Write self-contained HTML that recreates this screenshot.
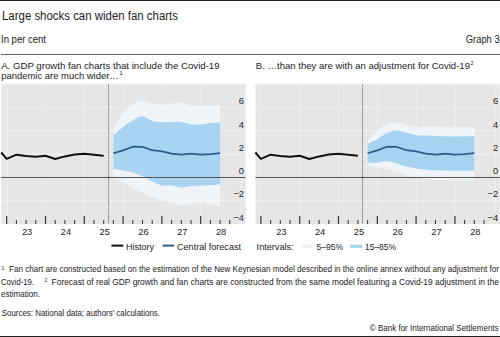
<!DOCTYPE html>
<html><head><meta charset="utf-8"><style>
html,body{margin:0;padding:0;background:#fff;width:500px;height:337px;overflow:hidden}
svg{display:block}
text{font-family:"Liberation Sans",sans-serif;fill:#222}
.ax{font-size:9.3px}
</style></head><body>
<svg width="500" height="337" viewBox="0 0 500 337">
<rect x="0" y="0" width="500" height="1" fill="#222"/>
<text x="2" y="19.8" font-size="12" textLength="176" lengthAdjust="spacingAndGlyphs">Large shocks can widen fan charts</text>
<text x="1" y="43" font-size="10" textLength="45" lengthAdjust="spacingAndGlyphs">In per cent</text>
<text x="465.8" y="43.3" font-size="10" textLength="33.8" lengthAdjust="spacingAndGlyphs">Graph 3</text>
<rect x="1" y="54" width="499" height="1" fill="#606060"/>
<text x="1.2" y="68.9" font-size="9.8" textLength="218.4" lengthAdjust="spacingAndGlyphs">A. GDP growth fan charts that include the Covid-19</text>
<text x="1.2" y="78.7" font-size="9.8" textLength="117.6" lengthAdjust="spacingAndGlyphs">pandemic are much wider…</text>
<text x="119.6" y="74.8" font-size="5.6">1</text>
<text x="255.8" y="68.9" font-size="9.8" textLength="214.2" lengthAdjust="spacingAndGlyphs">B. …than they are with an adjustment for Covid-19</text>
<text x="470.6" y="65.2" font-size="5.5">2</text>
<rect x="1.2" y="84.2" width="244.4" height="139.9" fill="#e6e6e6"/>
<line x1="1.2" x2="245.6" y1="107.5" y2="107.5" stroke="#efefef" stroke-width="1.2"/>
<line x1="1.2" x2="245.6" y1="130.8" y2="130.8" stroke="#efefef" stroke-width="1.2"/>
<line x1="1.2" x2="245.6" y1="154.1" y2="154.1" stroke="#efefef" stroke-width="1.2"/>
<line x1="1.2" x2="245.6" y1="200.70000000000002" y2="200.70000000000002" stroke="#efefef" stroke-width="1.2"/>
<line x1="6.9" x2="6.9" y1="84.2" y2="223.8" stroke="#efefef" stroke-width="1"/>
<line x1="45.7" x2="45.7" y1="84.2" y2="223.8" stroke="#efefef" stroke-width="1"/>
<line x1="84.5" x2="84.5" y1="84.2" y2="223.8" stroke="#efefef" stroke-width="1"/>
<line x1="123.3" x2="123.3" y1="84.2" y2="223.8" stroke="#efefef" stroke-width="1"/>
<line x1="162.09999999999997" x2="162.09999999999997" y1="84.2" y2="223.8" stroke="#efefef" stroke-width="1"/>
<line x1="200.89999999999998" x2="200.89999999999998" y1="84.2" y2="223.8" stroke="#efefef" stroke-width="1"/>
<line x1="241.29999999999995" x2="241.29999999999995" y1="84.2" y2="223.8" stroke="#efefef" stroke-width="1"/>
<path d="M113.40,129.00 C115.02,126.25 119.87,116.67 123.10,112.50 C126.33,108.33 129.57,106.08 132.80,104.00 C136.03,101.92 139.27,100.20 142.50,100.00 C145.73,99.80 148.97,102.05 152.20,102.80 C155.43,103.55 158.67,104.38 161.90,104.50 C165.13,104.62 168.37,103.87 171.60,103.50 C174.83,103.13 178.07,101.97 181.30,102.30 C184.53,102.63 187.77,104.88 191.00,105.50 C194.23,106.12 197.47,105.92 200.70,106.00 C203.93,106.08 207.17,106.08 210.40,106.00 C213.63,105.92 218.48,105.58 220.10,105.50 L220.10,206.70 C218.48,206.25 213.63,204.78 210.40,204.00 C207.17,203.22 203.93,202.00 200.70,202.00 C197.47,202.00 194.23,203.43 191.00,204.00 C187.77,204.57 184.53,205.62 181.30,205.40 C178.07,205.18 174.83,203.60 171.60,202.70 C168.37,201.80 165.13,200.93 161.90,200.00 C158.67,199.07 155.43,198.32 152.20,197.10 C148.97,195.88 145.73,194.30 142.50,192.70 C139.27,191.10 136.03,189.23 132.80,187.50 C129.57,185.77 126.33,183.78 123.10,182.30 C119.87,180.82 115.02,179.22 113.40,178.60 Z" fill="#f2fbff" fill-opacity="0.66"/>
<path d="M113.40,135.20 C115.02,133.83 119.87,129.48 123.10,127.00 C126.33,124.52 129.57,122.08 132.80,120.30 C136.03,118.52 139.27,116.18 142.50,116.30 C145.73,116.42 148.97,120.02 152.20,121.00 C155.43,121.98 158.67,122.03 161.90,122.20 C165.13,122.37 168.37,122.03 171.60,122.00 C174.83,121.97 178.07,121.63 181.30,122.00 C184.53,122.37 187.77,123.83 191.00,124.20 C194.23,124.57 197.47,124.37 200.70,124.20 C203.93,124.03 207.17,123.48 210.40,123.20 C213.63,122.92 218.48,122.62 220.10,122.50 L220.10,184.40 C218.48,184.50 213.63,184.83 210.40,185.00 C207.17,185.17 203.93,185.23 200.70,185.40 C197.47,185.57 194.23,185.67 191.00,186.00 C187.77,186.33 184.53,187.50 181.30,187.40 C178.07,187.30 174.83,185.75 171.60,185.40 C168.37,185.05 165.13,185.95 161.90,185.30 C158.67,184.65 155.43,183.00 152.20,181.50 C148.97,180.00 145.73,177.78 142.50,176.30 C139.27,174.82 136.03,173.58 132.80,172.60 C129.57,171.62 126.33,171.02 123.10,170.40 C119.87,169.78 115.02,169.15 113.40,168.90 Z" fill="#a8d4f2"/>
<line x1="1.2" x2="245.6" y1="177.5" y2="177.5" stroke="#555" stroke-width="1.15"/>
<polyline points="1.20,152.50 6.70,158.80 16.40,154.70 26.10,156.00 35.80,156.80 45.50,155.80 55.20,159.00 64.90,156.40 74.60,154.50 84.30,153.80 94.00,154.75 103.70,155.70" fill="none" stroke="#111" stroke-width="2" stroke-linejoin="round"/>
<polyline points="113.40,153.20 123.10,150.40 132.80,146.70 142.50,146.90 152.20,150.20 161.90,151.30 171.60,153.70 181.30,154.60 191.00,153.70 200.70,154.60 210.40,154.20 220.10,153.20" fill="none" stroke="#2c5d8c" stroke-width="1.7" stroke-linejoin="round"/>
<line x1="108.5" x2="108.5" y1="84.2" y2="223.8" stroke="#5a5a5a" stroke-width="1" stroke-dasharray="1,1"/>
<line x1="6.7" x2="6.7" y1="216" y2="224" stroke="#333" stroke-width="1.2"/>
<line x1="16.4" x2="16.4" y1="220" y2="224" stroke="#333" stroke-width="1"/>
<line x1="26.099999999999998" x2="26.099999999999998" y1="220" y2="224" stroke="#333" stroke-width="1"/>
<line x1="35.8" x2="35.8" y1="220" y2="224" stroke="#333" stroke-width="1"/>
<line x1="45.5" x2="45.5" y1="216" y2="224" stroke="#333" stroke-width="1.2"/>
<line x1="55.2" x2="55.2" y1="220" y2="224" stroke="#333" stroke-width="1"/>
<line x1="64.89999999999999" x2="64.89999999999999" y1="220" y2="224" stroke="#333" stroke-width="1"/>
<line x1="74.6" x2="74.6" y1="220" y2="224" stroke="#333" stroke-width="1"/>
<line x1="84.3" x2="84.3" y1="216" y2="224" stroke="#333" stroke-width="1.2"/>
<line x1="94.0" x2="94.0" y1="220" y2="224" stroke="#333" stroke-width="1"/>
<line x1="103.7" x2="103.7" y1="220" y2="224" stroke="#333" stroke-width="1"/>
<line x1="113.39999999999999" x2="113.39999999999999" y1="220" y2="224" stroke="#333" stroke-width="1"/>
<line x1="123.1" x2="123.1" y1="216" y2="224" stroke="#333" stroke-width="1.2"/>
<line x1="132.79999999999998" x2="132.79999999999998" y1="220" y2="224" stroke="#333" stroke-width="1"/>
<line x1="142.49999999999997" x2="142.49999999999997" y1="220" y2="224" stroke="#333" stroke-width="1"/>
<line x1="152.2" x2="152.2" y1="220" y2="224" stroke="#333" stroke-width="1"/>
<line x1="161.89999999999998" x2="161.89999999999998" y1="216" y2="224" stroke="#333" stroke-width="1.2"/>
<line x1="171.59999999999997" x2="171.59999999999997" y1="220" y2="224" stroke="#333" stroke-width="1"/>
<line x1="181.29999999999998" x2="181.29999999999998" y1="220" y2="224" stroke="#333" stroke-width="1"/>
<line x1="190.99999999999997" x2="190.99999999999997" y1="220" y2="224" stroke="#333" stroke-width="1"/>
<line x1="200.7" x2="200.7" y1="216" y2="224" stroke="#333" stroke-width="1.2"/>
<line x1="210.39999999999998" x2="210.39999999999998" y1="220" y2="224" stroke="#333" stroke-width="1"/>
<line x1="220.09999999999997" x2="220.09999999999997" y1="220" y2="224" stroke="#333" stroke-width="1"/>
<line x1="229.79999999999998" x2="229.79999999999998" y1="220" y2="224" stroke="#333" stroke-width="1"/>
<text x="244" y="104.2" text-anchor="end" class="ax">6</text>
<text x="244" y="127.50000000000001" text-anchor="end" class="ax">4</text>
<text x="244" y="150.79999999999998" text-anchor="end" class="ax">2</text>
<text x="244" y="174.1" text-anchor="end" class="ax">0</text>
<text x="244" y="197.4" text-anchor="end" class="ax">−2</text>
<text x="244" y="220.7" text-anchor="end" class="ax">−4</text>
<text x="27.099999999999998" y="234.8" text-anchor="middle" class="ax">23</text>
<text x="65.9" y="234.8" text-anchor="middle" class="ax">24</text>
<text x="104.69999999999999" y="234.8" text-anchor="middle" class="ax">25</text>
<text x="143.5" y="234.8" text-anchor="middle" class="ax">26</text>
<text x="182.29999999999998" y="234.8" text-anchor="middle" class="ax">27</text>
<text x="221.1" y="234.8" text-anchor="middle" class="ax">28</text>
<rect x="255.39999999999998" y="84.2" width="244.4" height="139.9" fill="#e6e6e6"/>
<line x1="255.39999999999998" x2="499.79999999999995" y1="107.5" y2="107.5" stroke="#efefef" stroke-width="1.2"/>
<line x1="255.39999999999998" x2="499.79999999999995" y1="130.8" y2="130.8" stroke="#efefef" stroke-width="1.2"/>
<line x1="255.39999999999998" x2="499.79999999999995" y1="154.1" y2="154.1" stroke="#efefef" stroke-width="1.2"/>
<line x1="255.39999999999998" x2="499.79999999999995" y1="200.70000000000002" y2="200.70000000000002" stroke="#efefef" stroke-width="1.2"/>
<line x1="261.09999999999997" x2="261.09999999999997" y1="84.2" y2="223.8" stroke="#efefef" stroke-width="1"/>
<line x1="299.9" x2="299.9" y1="84.2" y2="223.8" stroke="#efefef" stroke-width="1"/>
<line x1="338.7" x2="338.7" y1="84.2" y2="223.8" stroke="#efefef" stroke-width="1"/>
<line x1="377.49999999999994" x2="377.49999999999994" y1="84.2" y2="223.8" stroke="#efefef" stroke-width="1"/>
<line x1="416.29999999999995" x2="416.29999999999995" y1="84.2" y2="223.8" stroke="#efefef" stroke-width="1"/>
<line x1="455.09999999999997" x2="455.09999999999997" y1="84.2" y2="223.8" stroke="#efefef" stroke-width="1"/>
<line x1="495.49999999999994" x2="495.49999999999994" y1="84.2" y2="223.8" stroke="#efefef" stroke-width="1"/>
<path d="M367.60,140.50 C369.22,138.83 374.07,133.17 377.30,130.50 C380.53,127.83 383.77,125.83 387.00,124.50 C390.23,123.17 393.47,122.43 396.70,122.50 C399.93,122.57 403.17,124.18 406.40,124.90 C409.63,125.62 412.87,126.48 416.10,126.80 C419.33,127.12 422.57,126.80 425.80,126.80 C429.03,126.80 432.27,126.77 435.50,126.80 C438.73,126.83 441.97,126.92 445.20,127.00 C448.43,127.08 451.67,127.25 454.90,127.30 C458.13,127.35 461.37,127.38 464.60,127.30 C467.83,127.22 472.68,126.88 474.30,126.80 L474.30,180.80 C472.68,180.80 467.83,180.80 464.60,180.80 C461.37,180.80 458.13,180.85 454.90,180.80 C451.67,180.75 448.43,180.63 445.20,180.50 C441.97,180.37 438.73,180.25 435.50,180.00 C432.27,179.75 429.03,179.42 425.80,179.00 C422.57,178.58 419.33,178.17 416.10,177.50 C412.87,176.83 409.63,176.00 406.40,175.00 C403.17,174.00 399.93,172.50 396.70,171.50 C393.47,170.50 390.23,169.68 387.00,169.00 C383.77,168.32 380.53,168.03 377.30,167.40 C374.07,166.77 369.22,165.57 367.60,165.20 Z" fill="#f2fbff" fill-opacity="0.66"/>
<path d="M367.60,143.80 C369.22,143.00 374.07,140.80 377.30,139.00 C380.53,137.20 383.77,134.43 387.00,133.00 C390.23,131.57 393.47,130.43 396.70,130.40 C399.93,130.37 403.17,132.00 406.40,132.80 C409.63,133.60 412.87,134.73 416.10,135.20 C419.33,135.67 422.57,135.48 425.80,135.60 C429.03,135.72 432.27,135.80 435.50,135.90 C438.73,136.00 441.97,136.12 445.20,136.20 C448.43,136.28 451.67,136.40 454.90,136.40 C458.13,136.40 461.37,136.28 464.60,136.20 C467.83,136.12 472.68,135.95 474.30,135.90 L474.30,170.80 C472.68,170.80 467.83,170.80 464.60,170.80 C461.37,170.80 458.13,170.83 454.90,170.80 C451.67,170.77 448.43,170.70 445.20,170.60 C441.97,170.50 438.73,170.40 435.50,170.20 C432.27,170.00 429.03,169.70 425.80,169.40 C422.57,169.10 419.33,168.87 416.10,168.40 C412.87,167.93 409.63,167.40 406.40,166.60 C403.17,165.80 399.93,164.53 396.70,163.60 C393.47,162.67 390.23,161.13 387.00,161.00 C383.77,160.87 380.53,162.50 377.30,162.80 C374.07,163.10 369.22,162.80 367.60,162.80 Z" fill="#a8d4f2"/>
<line x1="255.39999999999998" x2="499.79999999999995" y1="177.5" y2="177.5" stroke="#555" stroke-width="1.15"/>
<polyline points="255.40,152.50 260.90,158.80 270.60,154.70 280.30,156.00 290.00,156.80 299.70,155.80 309.40,159.00 319.10,156.40 328.80,154.50 338.50,153.80 348.20,154.75 357.90,155.70" fill="none" stroke="#111" stroke-width="2" stroke-linejoin="round"/>
<polyline points="367.60,153.20 377.30,150.40 387.00,146.70 396.70,146.90 406.40,150.20 416.10,151.30 425.80,153.70 435.50,154.60 445.20,153.70 454.90,154.60 464.60,154.20 474.30,153.20" fill="none" stroke="#2c5d8c" stroke-width="1.7" stroke-linejoin="round"/>
<line x1="362.5" x2="362.5" y1="84.2" y2="223.8" stroke="#5a5a5a" stroke-width="1" stroke-dasharray="1,1"/>
<line x1="260.9" x2="260.9" y1="216" y2="224" stroke="#333" stroke-width="1.2"/>
<line x1="270.59999999999997" x2="270.59999999999997" y1="220" y2="224" stroke="#333" stroke-width="1"/>
<line x1="280.3" x2="280.3" y1="220" y2="224" stroke="#333" stroke-width="1"/>
<line x1="290.0" x2="290.0" y1="220" y2="224" stroke="#333" stroke-width="1"/>
<line x1="299.7" x2="299.7" y1="216" y2="224" stroke="#333" stroke-width="1.2"/>
<line x1="309.4" x2="309.4" y1="220" y2="224" stroke="#333" stroke-width="1"/>
<line x1="319.09999999999997" x2="319.09999999999997" y1="220" y2="224" stroke="#333" stroke-width="1"/>
<line x1="328.79999999999995" x2="328.79999999999995" y1="220" y2="224" stroke="#333" stroke-width="1"/>
<line x1="338.5" x2="338.5" y1="216" y2="224" stroke="#333" stroke-width="1.2"/>
<line x1="348.2" x2="348.2" y1="220" y2="224" stroke="#333" stroke-width="1"/>
<line x1="357.9" x2="357.9" y1="220" y2="224" stroke="#333" stroke-width="1"/>
<line x1="367.59999999999997" x2="367.59999999999997" y1="220" y2="224" stroke="#333" stroke-width="1"/>
<line x1="377.29999999999995" x2="377.29999999999995" y1="216" y2="224" stroke="#333" stroke-width="1.2"/>
<line x1="387.0" x2="387.0" y1="220" y2="224" stroke="#333" stroke-width="1"/>
<line x1="396.69999999999993" x2="396.69999999999993" y1="220" y2="224" stroke="#333" stroke-width="1"/>
<line x1="406.4" x2="406.4" y1="220" y2="224" stroke="#333" stroke-width="1"/>
<line x1="416.09999999999997" x2="416.09999999999997" y1="216" y2="224" stroke="#333" stroke-width="1.2"/>
<line x1="425.79999999999995" x2="425.79999999999995" y1="220" y2="224" stroke="#333" stroke-width="1"/>
<line x1="435.5" x2="435.5" y1="220" y2="224" stroke="#333" stroke-width="1"/>
<line x1="445.19999999999993" x2="445.19999999999993" y1="220" y2="224" stroke="#333" stroke-width="1"/>
<line x1="454.9" x2="454.9" y1="216" y2="224" stroke="#333" stroke-width="1.2"/>
<line x1="464.59999999999997" x2="464.59999999999997" y1="220" y2="224" stroke="#333" stroke-width="1"/>
<line x1="474.29999999999995" x2="474.29999999999995" y1="220" y2="224" stroke="#333" stroke-width="1"/>
<line x1="484.0" x2="484.0" y1="220" y2="224" stroke="#333" stroke-width="1"/>
<text x="498.2" y="104.2" text-anchor="end" class="ax">6</text>
<text x="498.2" y="127.50000000000001" text-anchor="end" class="ax">4</text>
<text x="498.2" y="150.79999999999998" text-anchor="end" class="ax">2</text>
<text x="498.2" y="174.1" text-anchor="end" class="ax">0</text>
<text x="498.2" y="197.4" text-anchor="end" class="ax">−2</text>
<text x="498.2" y="220.7" text-anchor="end" class="ax">−4</text>
<text x="281.3" y="234.8" text-anchor="middle" class="ax">23</text>
<text x="320.1" y="234.8" text-anchor="middle" class="ax">24</text>
<text x="358.9" y="234.8" text-anchor="middle" class="ax">25</text>
<text x="397.7" y="234.8" text-anchor="middle" class="ax">26</text>
<text x="436.5" y="234.8" text-anchor="middle" class="ax">27</text>
<text x="475.29999999999995" y="234.8" text-anchor="middle" class="ax">28</text>
<line x1="111.4" x2="123.4" y1="245.6" y2="245.6" stroke="#111" stroke-width="2"/>
<text x="126" y="250" font-size="9.4" textLength="28" lengthAdjust="spacingAndGlyphs">History</text>
<line x1="162.6" x2="174" y1="245.6" y2="245.6" stroke="#2c5d8c" stroke-width="2"/>
<text x="177" y="250" font-size="9.4" textLength="64" lengthAdjust="spacingAndGlyphs">Central forecast</text>
<text x="256.6" y="250" font-size="9.4" textLength="37" lengthAdjust="spacingAndGlyphs">Intervals:</text>
<rect x="300.8" y="244.7" width="12" height="3.2" fill="#edf2f5"/>
<text x="316.4" y="250" font-size="9.4" textLength="26.6" lengthAdjust="spacingAndGlyphs">5–95%</text>
<rect x="350" y="244.7" width="12.3" height="3.2" fill="#a8d4f2"/>
<text x="365" y="250" font-size="9.4" textLength="31" lengthAdjust="spacingAndGlyphs">15–85%</text>
<text x="1.6" y="269.5" font-size="5">1</text>
<text x="9" y="272.4" font-size="8.4" textLength="490" lengthAdjust="spacingAndGlyphs">Fan chart are constructed based on the estimation of the New Keynesian model described in the online annex without any adjustment for</text>
<text x="1" y="285" font-size="8.4" textLength="33" lengthAdjust="spacingAndGlyphs">Covid-19.</text>
<text x="44.4" y="282" font-size="5">2</text>
<text x="51.6" y="285" font-size="8.4" textLength="447.4" lengthAdjust="spacingAndGlyphs">Forecast of real GDP growth and fan charts are constructed from the same model featuring a Covid-19 adjustment in the</text>
<text x="1" y="297" font-size="8.4" textLength="39" lengthAdjust="spacingAndGlyphs">estimation.</text>
<text x="1.7" y="315.8" font-size="8.6" textLength="158.3" lengthAdjust="spacingAndGlyphs">Sources: National data; authors’ calculations.</text>
<text x="369.8" y="331" font-size="8.6" textLength="128.8" lengthAdjust="spacingAndGlyphs">© Bank for International Settlements</text>
<rect x="0" y="336" width="500" height="1" fill="#222"/>
</svg>
</body></html>
